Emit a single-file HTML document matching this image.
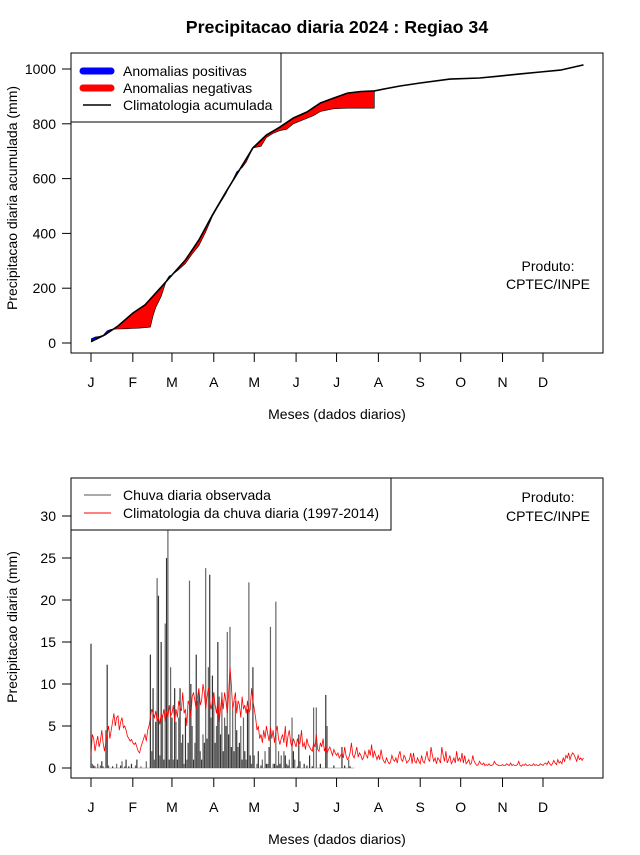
<!DOCTYPE html>
<html><head><meta charset="utf-8"><style>
body{margin:0;background:#fff;}
svg text{font-family:"Liberation Sans",sans-serif;}
</style></head><body>
<svg id="s" width="640" height="850" xmlns="http://www.w3.org/2000/svg">
<text x="337" y="33" text-anchor="middle" font-size="17.8" font-weight="bold">Precipitacao diaria 2024 : Regiao 34</text>
<g id="top"></g>
<g id="bot"></g>
</svg>
<script>
// ---- top panel data ----
const climCumDays = [0,10,20,31,40,50,60,70,80,90,100,110,120,130,140,150,160,170,180,190,200,210,229,244,266,288,303,318,333,348,365];
const climCum = [5,29,62,109,139,193,248,303,376,467,551,631,712,759,788,821,843,876,894,912,918,920,938,949,963,967,974,982,989,996,1015];
const obsCumDays = [0,3,6,9,12,15,20,25,30,35,40,44,46,48,50,52,54,56,58,60,65,70,75,80,85,90,95,100,105,108,112,115,120,123,126,130,135,140,145,150,155,160,165,170,175,180,190,210];
const obsCum = [15,22,24,28,45,50,51,52,53,54,56,58,100,130,150,170,200,230,245,248,268,290,325,355,405,462,505,545,595,625,640,660,712,715,718,750,765,775,780,800,810,820,830,845,850,855,857,857];
const topTicks = [0,200,400,600,800,1000];
const months = ["J","F","M","A","M","J","J","A","S","O","N","D"];
const monthStart = [0,31,60,91,121,152,182,213,244,274,305,335];
// ---- bottom panel data ----
const climDaily = [
1.5,4,3.5,2,3,3.8,2.5,3.2,4.5,3,2,3,4.2,5,3.5,4.5,5.5,6.5,5,6,6.2,4.5,5.5,6,4.8,5,4.5,3.8,3.5,3.2,3.4,
3,2.8,3,2.5,2,1.8,2.5,3,3.5,4,3.2,4.5,5,6,7,6.5,6,6.8,5.5,6,5.2,6.5,6,7,5.5,6.8,6,7.5,6.2,
6.5,7.5,5.5,7,6,8,7.2,6.8,9,6.5,7,5,8,7.5,6,8.5,9,8,7,8.5,9.5,7.5,8,10,9,7,8.5,9.5,8,7,8,
9,7.5,6.5,8,5.5,7,8.5,7,9,8,6.5,8.8,12,10,7,8,9,6.5,8,7.5,6,8.5,7,7.5,6.5,8,6.5,7,9.5,8,
7,6,4.5,5,3.5,4,3,4.5,3.5,5,4,3.2,4.8,3.5,4.5,3,4.2,5,3.5,2.8,3.5,4,3,5,2.5,3.8,4.5,3,2.5,3.5,3,
2.5,3.5,2.8,3,4.5,2.5,3,2.2,3.5,2.8,2.5,2.2,2,3,2.5,4,2.2,2,3,2.5,3.5,2,2.6,1.8,2.2,2.5,2,1.5,2.2,1.8,
1.5,1.8,1.2,1.5,1.8,1.2,2.5,1.5,1,1.2,1.8,3,1.5,1.2,1.8,2.5,1.3,1.8,1.5,1,1.2,2,1.5,1.2,2.2,1.5,2.8,1.2,2,1.5,1,
1.5,1,2.2,1.2,0.8,0.6,1.2,0.8,0.5,0.7,1.5,1,0.8,1.2,0.6,1.5,2,1,0.8,1.5,1.2,0.6,0.8,1,1.8,0.5,1.8,0.8,0.6,1.2,0.8,
0.5,1.5,0.8,0.6,1.2,2,1,0.8,2.5,1.5,0.8,1.2,0.5,1.2,1,0.6,2.5,1.5,0.8,2,0.6,1,1.5,0.5,0.8,1.2,0.6,2,0.8,1.2,
0.8,1.8,0.6,1.5,0.5,0.7,1,0.4,0.6,1.5,0.8,0.5,0.3,0.4,0.8,0.5,0.4,0.6,0.3,0.4,0.3,0.5,0.3,0.3,0.4,0.8,0.5,0.4,0.3,0.3,0.3,
0.4,0.3,0.3,0.5,0.4,0.3,0.6,0.3,0.4,0.3,0.3,0.4,0.8,0.3,0.2,0.4,0.3,0.5,0.3,0.3,0.4,0.3,0.3,0.5,0.3,0.4,0.3,0.3,0.5,0.4,
0.3,0.5,0.6,0.4,0.8,0.5,0.3,0.5,0.9,0.6,0.4,1,0.6,0.8,0.5,1.2,0.8,1.5,1.2,1.8,1,1.5,1.8,1.6,1.2,0.8,1.5,1,1.2,0.9,1.2];
const obsDaily = [
14.8,0.5,0.3,0.2,0,0.5,0,0.3,0.8,0.2,0,4.5,12.3,0.3,0,0,0.2,0,0,0.5,0,0,0.3,0.8,0,0.2,1,0,0.2,0,0.5,
0,0,0.3,1,0,0,0.2,0,0,0,0.8,0,0,13.5,2,9.5,1,5.5,22.6,20.5,1.5,15,6,1,17.2,25,33,1,12,
6,1,9.5,5.5,1,6,9.5,3,4,0.5,6,1,3,22.3,10,5,1,3,13.5,8,9,2,1,4,3,23.8,3.5,12,23,6,11,
9,3,5,15,8.5,4,9,2,6,5,16.2,4,16.8,2.5,7,2,8,4.5,2.5,3,5,1,6,2,1,7,22.1,1.5,0.5,12,
1.5,0,0.5,2,0,0.3,1,0,2,0.5,0.5,2.5,16.8,0,0.5,0.5,19.8,0.3,2,0.5,1.5,0,2,1.5,0.5,0.3,1,0,6,2,1,
0,0.2,4,0.8,0,0,0.5,0,0.3,0,1.5,0,0.2,7.2,0,7.2,0,0,0.5,0,0,0,8.7,5,0,0,0,0,0.3,0,
0,0,0,0,2.5,0,0.3,0,0,1,0.2,0,0,0];
const botTicks = [0,5,10,15,20,25,30];

const NS="http://www.w3.org/2000/svg";
const FS=14;
function mk(parent,tag,attrs,text){const e=document.createElementNS(NS,tag);for(const k in attrs)e.setAttribute(k,attrs[k]);if(text!==undefined)e.textContent=text;parent.appendChild(e);return e;}
const xd = d => 91 + d*452/335;
const yTop = v => 343 - v*0.274;
const yBot = v => 768 - v*8.4;

function axes(g, top, bottom, ticks, yf, ytitle, ycenter){
  const box=mk(g,'rect',{x:71,y:top,width:532,height:bottom-top,fill:'none',stroke:'#000','stroke-width':1});
  
  
  mk(g,'line',{x1:xd(0),x2:xd(335),y1:bottom,y2:bottom,stroke:'#000'});
  monthStart.forEach((d,i)=>{
    mk(g,'line',{x1:xd(d),x2:xd(d),y1:bottom,y2:bottom+9,stroke:'#000'});
    const t=mk(g,'text',{x:xd(d),y:bottom+34,'text-anchor':'middle','font-size':FS},months[i]);
    
    
  });
  ticks.forEach(v=>{
    mk(g,'line',{x1:62,x2:71,y1:yf(v),y2:yf(v),stroke:'#000'});
    const t=mk(g,'text',{x:56,y:yf(v)+5,'text-anchor':'end','font-size':FS},String(v));
    
    
  });
  const xt=mk(g,'text',{x:337,y:bottom+66,'text-anchor':'middle','font-size':FS},'Meses (dados diarios)');
  
  
  const yt=mk(g,'text',{x:0,y:0,'text-anchor':'middle','font-size':FS,transform:`translate(17,${ycenter}) rotate(-90)`},ytitle);
  
  
}

// ---- top panel ----
const T=document.getElementById('top');
axes(T,53,353,topTicks,yTop,'Precipitacao diaria acumulada (mm)',198);
const obsEnd=obsCumDays[obsCumDays.length-1];
const climPts=climCumDays.map((d,i)=>[xd(d),yTop(climCum[i])]);
const climPartPts=climPts.filter((p,i)=>climCumDays[i]<=obsEnd);
const obsPts=obsCumDays.map((d,i)=>[xd(d),yTop(obsCum[i])]);
const ps=a=>a.map(p=>p[0].toFixed(1)+','+p[1].toFixed(1)).join(' ');
const defs=mk(T,'defs',{});
const cpA=mk(defs,'clipPath',{id:'above'});
mk(cpA,'polygon',{points:ps(climPts)+` ${xd(365)},0 ${xd(0)},0`});
const cpB=mk(defs,'clipPath',{id:'below'});
mk(cpB,'polygon',{points:ps(climPts)+` ${xd(365)},400 ${xd(0)},400`});
const between=ps(obsPts)+' '+ps(climPartPts.slice().reverse());
const blue=mk(T,'polygon',{points:between,fill:'#0000ff','clip-path':'url(#above)'});


const red=mk(T,'polygon',{points:between,fill:'#ff0000','clip-path':'url(#below)'});


const endIdx=climCumDays.indexOf(obsEnd);
const obsLine=mk(T,'polyline',{points:ps(obsPts)+` ${xd(obsEnd)},${yTop(endIdx>=0?climCum[endIdx]:920)}`,fill:'none',stroke:'#000','stroke-width':0.6});


const climLine=mk(T,'polyline',{points:ps(climPts),fill:'none',stroke:'#000','stroke-width':1.6});


// legend
const lg=mk(T,'g',{});


mk(lg,'rect',{x:71,y:53,width:210,height:69,fill:'#fff',stroke:'#000'});
mk(lg,'line',{x1:83,x2:111,y1:71,y2:71,stroke:'#0000ff','stroke-width':7,'stroke-linecap':'round'});
mk(lg,'line',{x1:83,x2:111,y1:88,y2:88,stroke:'#ff0000','stroke-width':7,'stroke-linecap':'round'});
mk(lg,'line',{x1:83,x2:111,y1:105,y2:105,stroke:'#000','stroke-width':1.5});
mk(lg,'text',{x:123,y:76,'font-size':FS},'Anomalias positivas');
mk(lg,'text',{x:123,y:93,'font-size':FS},'Anomalias negativas');
mk(lg,'text',{x:123,y:110,'font-size':FS},'Climatologia acumulada');
const p1=mk(T,'text',{x:548,y:271,'text-anchor':'middle','font-size':FS},'Produto:');


mk(T,'text',{x:548,y:289,'text-anchor':'middle','font-size':FS},'CPTEC/INPE');

// ---- bottom panel ----
const B=document.getElementById('bot');
axes(B,478,778,botTicks,yBot,'Precipitacao diaria (mm)',627);
mk(B,'line',{x1:xd(0),x2:xd(obsDaily.length-1),y1:768,y2:768,stroke:'#bbb','stroke-width':1});
obsDaily.forEach((v,i)=>{
  if(v<=0) return;
  const b=mk(B,'line',{x1:xd(i),x2:xd(i),y1:768,y2:Math.max(yBot(v),530),stroke:i%2?'#666':'#333','stroke-width':1.2});
  
  
});
const cl=mk(B,'polyline',{points:climDaily.map((v,i)=>xd(i).toFixed(1)+','+yBot(v).toFixed(1)).join(' '),fill:'none',stroke:'#ff0000','stroke-width':0.8});


const lg2=mk(B,'g',{});


mk(lg2,'rect',{x:71,y:478,width:320,height:52,fill:'#fff',stroke:'#000'});
mk(lg2,'line',{x1:84,x2:111,y1:495,y2:495,stroke:'#555','stroke-width':1});
mk(lg2,'line',{x1:84,x2:111,y1:513,y2:513,stroke:'#ff0000','stroke-width':1});
mk(lg2,'text',{x:123,y:500,'font-size':FS},'Chuva diaria observada');
mk(lg2,'text',{x:123,y:518,'font-size':FS},'Climatologia da chuva diaria (1997-2014)');
const p2=mk(B,'text',{x:548,y:502,'text-anchor':'middle','font-size':FS},'Produto:');


mk(B,'text',{x:548,y:521,'text-anchor':'middle','font-size':FS},'CPTEC/INPE');
</script>
</body></html>
